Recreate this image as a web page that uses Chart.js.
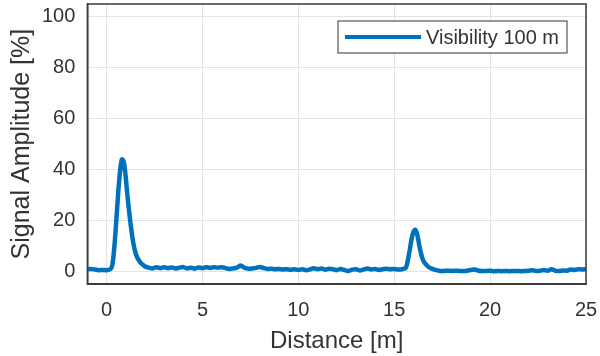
<!DOCTYPE html>
<html>
<head>
<meta charset="utf-8">
<script src="https://cdn.jsdelivr.net/npm/chart.js@4.4.1/dist/chart.umd.min.js"></script>
<style>
  html, body { margin: 0; padding: 0; background: #fff; }
  #wrap { width: 600px; height: 356px; }
</style>
</head>
<body>
<div id="wrap"><canvas id="canvas"></canvas></div>
<script>
// distance [m]
var distance = [
  -1.0, -0.8, -0.6, -0.4, -0.2, 0.0, 0.2, 0.3, 0.4, 0.5, 0.6, 0.7, 0.8, 0.9,
  1.0, 1.1, 1.2, 1.3, 1.4, 1.5, 1.6, 1.7, 1.8, 1.9, 2.0, 2.2, 2.4, 2.6, 2.8,
  3.0, 3.2, 3.4, 3.6, 3.8, 4.0, 4.2, 4.4, 4.6, 4.8, 5.0, 5.2, 5.4, 5.6, 5.8,
  6.0, 6.2, 6.4, 6.6, 6.8, 7.0, 7.2, 7.4, 7.6, 7.8, 8.0, 8.2, 8.4, 8.6, 8.8,
  9.0, 9.2, 9.4, 9.6, 9.8, 10.0, 10.2, 10.4, 10.6, 10.8, 11.0, 11.2, 11.4, 11.6, 11.8,
  12.0, 12.2, 12.4, 12.6, 12.8, 13.0, 13.2, 13.4, 13.6, 13.8, 14.0, 14.2, 14.4, 14.6, 14.8,
  15.0, 15.2, 15.4, 15.6, 15.7, 15.8, 15.9, 16.0, 16.1, 16.2, 16.3, 16.4, 16.5, 16.6, 16.7, 16.8,
  17.0, 17.2, 17.4, 17.6, 17.8, 18.0, 18.2, 18.4, 18.6, 18.8, 19.0, 19.2, 19.4, 19.6, 19.8,
  20.0, 20.2, 20.4, 20.6, 20.8, 21.0, 21.2, 21.4, 21.6, 21.8, 22.0, 22.2, 22.4, 22.6, 22.8,
  23.0, 23.2, 23.4, 23.6, 23.8, 24.0, 24.2, 24.4, 24.6, 24.8, 25.0
];
// signal amplitude [%], visibility 100 m
var amplitude = [
  0.9, 1.0, 0.8, 0.5, 0.6, 0.5, 0.9, 2.5, 9, 19, 30, 39, 44, 43,
  37, 29, 22, 16, 11, 7.5, 5.5, 4.2, 3.2, 2.6, 2.0, 1.5, 1.2, 1.7, 1.3,
  1.7, 1.3, 1.6, 1.2, 1.5, 1.7, 1.2, 1.5, 1.1, 1.6, 1.3, 1.7, 1.4, 1.7, 1.5,
  1.7, 1.3, 1.0, 1.2, 1.5, 2.3, 1.4, 1.1, 1.2, 1.4, 1.8, 1.3, 1.0, 1.1, 0.9,
  1.0, 0.8, 0.9, 0.7, 0.9, 0.6, 0.9, 0.5, 0.8, 1.3, 0.9, 1.2, 0.7, 1.1, 0.9,
  0.5, 1.0, 0.6, 0.2, 0.7, 0.9, 0.4, 0.8, 1.2, 0.8, 1.0, 0.6, 0.9, 1.1, 0.9,
  1.0, 0.8, 0.9, 1.4, 4, 8, 12.5, 15.5, 16.3, 14.5, 10.5, 7, 4.5, 3.2, 2.4, 1.7,
  1.0, 0.5, 0.2, 0.2, 0.3, 0.2, 0.3, 0.2, 0.2, 0.3, 0.6, 0.8, 0.3, 0.2, 0.2,
  0.3, 0.1, 0.2, 0.1, 0.2, 0.1, 0.2, 0.2, 0.1, 0.2, 0.3, 0.5, 0.2, 0.3, 0.6,
  0.3, 0.9, 0.3, 0.2, 0.4, 0.3, 0.8, 0.6, 0.9, 0.8, 0.9
];
var xTicks = [0, 5, 10, 15, 20, 25];
var yTicks = [0, 20, 40, 60, 80, 100];
var seriesLabel = 'Visibility 100 m';

var FONT = '"Liberation Sans", Arial, sans-serif';
var AXIS_COLOR = '#3a3a3a';
var TEXT_COLOR = '#333333';
var GRID_COLOR = '#e3e3e3';
var LINE_COLOR = '#0072BD';

// box round the plot + legend inside the top right corner
var boxPlugin = {
  id: 'box',
  afterDraw: function(chart) {
    var ctx = chart.ctx, a = chart.chartArea;
    ctx.save();
    ctx.strokeStyle = AXIS_COLOR;
    ctx.lineWidth = 1.5;
    ctx.strokeRect(a.left, a.top, a.right - a.left, a.bottom - a.top);

    ctx.font = '20px ' + FONT;
    var tw = ctx.measureText(seriesLabel).width;
    var h = 32, lineLen = 76;
    var w = 7 + lineLen + 5 + tw + 8;
    var bx = a.right - 19 - w, by = a.top + 17;
    ctx.fillStyle = '#fff';
    ctx.fillRect(bx, by, w, h);
    ctx.strokeStyle = '#555';
    ctx.lineWidth = 1.2;
    ctx.strokeRect(bx, by, w, h);
    ctx.strokeStyle = LINE_COLOR;
    ctx.lineWidth = 4;
    ctx.beginPath();
    ctx.moveTo(bx + 7, by + h / 2);
    ctx.lineTo(bx + 7 + lineLen, by + h / 2);
    ctx.stroke();
    ctx.fillStyle = TEXT_COLOR;
    ctx.textBaseline = 'middle';
    ctx.fillText(seriesLabel, bx + 7 + lineLen + 5, by + h / 2 + 1);
    ctx.restore();
  }
};

var points = distance.map(function(d, i) { return { x: d, y: amplitude[i] }; });

new Chart(document.getElementById('canvas'), {
  type: 'line',
  data: {
    datasets: [{
      label: seriesLabel,
      data: points,
      borderColor: LINE_COLOR,
      borderWidth: 4.5,
      pointRadius: 0,
      tension: 0.3,
      fill: false
    }]
  },
  options: {
    responsive: true,
    maintainAspectRatio: false,
    animation: false,
    layout: { padding: { top: 4, right: 14, left: 7, bottom: 0 } },
    plugins: {
      legend: { display: false },
      tooltip: { enabled: false }
    },
    scales: {
      x: {
        type: 'linear',
        min: -1,
        max: 25,
        afterBuildTicks: function(axis) {
          axis.ticks = xTicks.map(function(v) { return { value: v }; });
        },
        afterFit: function(axis) { axis.paddingLeft = 0; axis.paddingRight = 0; },
        grid: { color: GRID_COLOR, drawTicks: false },
        border: { color: AXIS_COLOR, width: 1.5 },
        ticks: { color: TEXT_COLOR, font: { family: FONT, size: 20 }, padding: 14, maxRotation: 0 },
        title: { display: true, text: 'Distance [m]', color: TEXT_COLOR, font: { family: FONT, size: 24 }, padding: { top: -9, bottom: 0 } }
      },
      y: {
        min: -5,
        max: 105,
        afterBuildTicks: function(axis) {
          axis.ticks = yTicks.map(function(v) { return { value: v }; });
        },
        afterFit: function(axis) { axis.paddingTop = 0; axis.paddingBottom = 0; },
        grid: { color: GRID_COLOR, drawTicks: false },
        border: { color: AXIS_COLOR, width: 1.5 },
        ticks: { color: TEXT_COLOR, font: { family: FONT, size: 20 }, padding: 12 },
        title: { display: true, text: 'Signal Amplitude [%]', color: TEXT_COLOR, font: { family: FONT, size: 25 }, padding: { top: 0, bottom: -7 } }
      }
    }
  },
  plugins: [boxPlugin]
});
</script>
</body>
</html>
